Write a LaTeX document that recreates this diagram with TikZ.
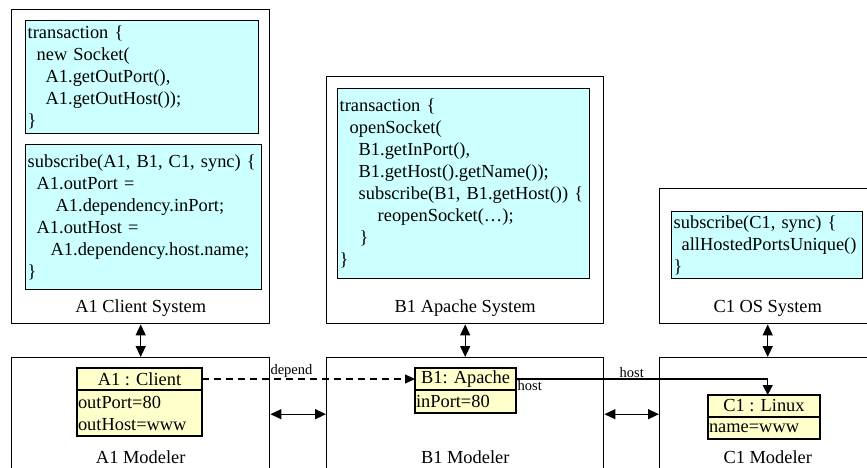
\documentclass[tikz,border=0pt]{standalone}
\usepackage{fontspec}
\setmainfont{Liberation Serif}
\usetikzlibrary{positioning,arrows.meta}
\definecolor{codecyan}{RGB}{204,255,255}
\definecolor{classyellow}{RGB}{255,255,204}

\tikzset{
	sysbox/.style={rectangle, draw, line width=1.4pt, anchor=north west, inner sep=0pt},
	codebox/.style={rectangle, draw, fill=codecyan, line width=1.4pt, anchor=north west, align=left, inner xsep=2pt, inner ysep=0pt},
	classhead/.style={rectangle, draw, fill=classyellow, line width=1.3pt, inner sep=0pt, outer sep=0pt},
	classbody/.style={rectangle, draw, fill=classyellow, line width=1.3pt, align=left, inner xsep=1pt, inner ysep=0pt, outer sep=0pt},
	boxlabel/.style={anchor=base, inner sep=0pt},
	smalllbl/.style={inner sep=1pt, font=\fontsize{14.5}{17}\selectfont},
	dblarrow/.style={{Triangle[length=11pt,width=10pt]}-{Triangle[length=11pt,width=10pt]}, line width=1.4pt},
	deparrow/.style={-{Triangle[length=10pt,width=9pt]}, line width=1.3pt, dash pattern=on 7pt off 5pt},
	hostarrow/.style={-{Triangle[length=10pt,width=10pt]}, line width=1.3pt}
}

\begin{document}
\begin{tikzpicture}[x=1pt, y=-1pt, font=\fontsize{18.4}{22}\selectfont]
	\useasboundingbox (0,0) rectangle (867,468);

	% systems
	\node[sysbox, minimum width=258pt, minimum height=314pt] (A1sys) at (11,9) {};
	\node[sysbox, minimum width=277pt, minimum height=247pt] (B1sys) at (326,76) {};
	\node[sysbox, minimum width=216pt, minimum height=135pt] (C1sys) at (659,188) {};
	\node[boxlabel] (A1syslbl) at ([yshift=12pt]A1sys.south) {A1 Client System};
	\node[boxlabel] (B1syslbl) at ([yshift=12pt]B1sys.south) {B1 Apache System};
	\node[boxlabel] (C1syslbl) at ([yshift=12pt]C1sys.south) {C1 OS System};

	\node[codebox, text width=229pt, minimum height=113pt] (A1tx) at (25,20) {transaction \{\\
		\hspace*{9pt}new Socket(\\
		\hspace*{18pt}A1.getOutPort(),\\
		\hspace*{18pt}A1.getOutHost());\\
		\}};
	\node[codebox, text width=232pt, minimum height=145pt] (A1sub) at (25,144) {subscribe(A1, B1, C1, sync) \{\\
		\hspace*{9pt}A1.outPort =\\
		\hspace*{28pt}A1.dependency.inPort;\\
		\hspace*{9pt}A1.outHost =\\
		\hspace*{23pt}A1.dependency.host.name;\\
		\}};
	\node[codebox, text width=248pt, minimum height=190pt] (B1tx) at (337,88) {transaction \{\\
		\hspace*{10pt}openSocket(\\
		\hspace*{19pt}B1.getInPort(),\\
		\hspace*{19pt}B1.getHost().getName());\\
		\hspace*{19pt}subscribe(B1, B1.getHost()) \{\\
		\hspace*{38pt}reopenSocket(…);\\
		\hspace*{20pt}\}\\
		\}};
	\node[codebox, text width=187pt, minimum height=67pt] (C1sub) at (671,211) {subscribe(C1, sync) \{\\
		\hspace*{8pt}allHostedPortsUnique()\\
		\}};

	% modelers
	\node[sysbox, minimum width=258pt, minimum height=113pt] (A1mod) at (11,357) {};
	\node[sysbox, minimum width=277pt, minimum height=113pt] (B1mod) at (326,357) {};
	\node[sysbox, minimum width=216pt, minimum height=113pt] (C1mod) at (659,357) {};
	\node[boxlabel] (A1modlbl) at ([yshift=8pt]A1mod.south) {A1 Modeler};
	\node[boxlabel] (B1modlbl) at ([yshift=8pt]B1mod.south) {B1 Modeler};
	\node[boxlabel] (C1modlbl) at ([yshift=8pt]C1mod.south) {C1 Modeler};

	\node[classhead, anchor=north west, minimum width=125pt, minimum height=22pt] (A1head) at (77,368) {A1 : Client};
	\node[classbody, below=0pt of A1head, text width=123pt, minimum height=46pt] (A1body) {outPort=80\\outHost=www};
	\node[classhead, anchor=north west, minimum width=101pt, minimum height=22pt] (B1head) at (415,368) {B1: Apache};
	\node[classbody, below=0pt of B1head, text width=99pt, minimum height=23pt] (B1body) {inPort=80};
	\node[classhead, anchor=north west, minimum width=112pt, minimum height=22pt] (C1head) at (708,395) {C1 : Linux};
	\node[classbody, below=0pt of C1head, text width=110pt, minimum height=22pt] (C1body) {name=www};

	\draw[dblarrow] (A1sys) -- (A1mod);
	\draw[dblarrow] (B1sys) -- (B1mod);
	\draw[dblarrow] (C1sys) -- (C1mod);
	\draw[dblarrow] (A1mod) -- (B1mod);
	\draw[dblarrow] (B1mod) -- (C1mod);

	\draw[deparrow] (A1head.east) -- node[smalllbl, above, pos=0.42] (deplbl) {depend} (B1head.west);
	\draw[hostarrow] (B1head.east) -| node[smalllbl, above, pos=0.23] (hostlbl) {host} node[smalllbl, anchor=north west, pos=0] (rolelbl) {host} (C1mod.north |- C1head.north);
\end{tikzpicture}
\end{document}
